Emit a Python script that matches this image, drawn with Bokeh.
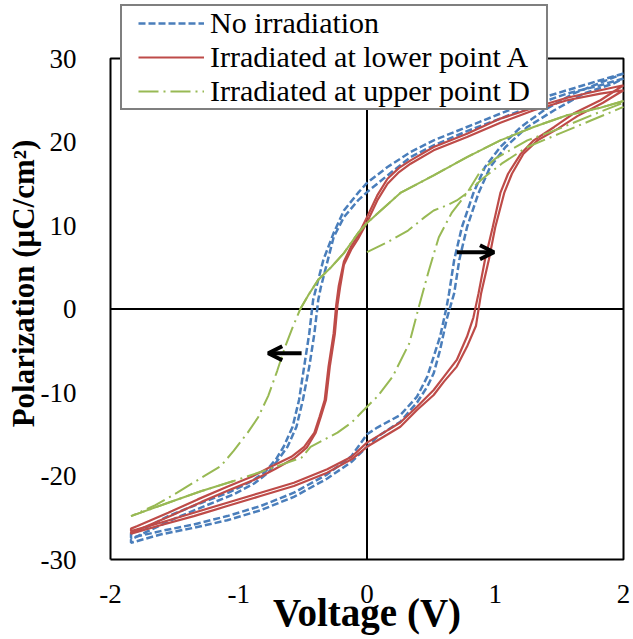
import math
from bokeh.plotting import figure
from bokeh.models import (Range1d, FixedTicker, Legend, LegendItem, Arrow, OpenHead)
from bokeh.embed import file_html
from bokeh.resources import INLINE

# ---------------- data ----------------
x_ticks = [-2, -1, 0, 1, 2]
y_ticks = [-30, -20, -10, 0, 10, 20, 30]
x_limits = (-2, 2)
y_limits = (-30, 30)

series_names = ["No irradiation", "Irradiated at lower point A", "Irradiated at upper point D"]
x_title = "Voltage (V)"
y_title = "Polarization (μC/cm²)"

# No irradiation (two cycles): descending and ascending branches
noirr_dn1_v = [2.0, 1.82, 1.56, 1.3, 1.04, 0.78, 0.52, 0.34, 0.16, 0.0, -0.07, -0.18, -0.26, -0.34, -0.38,
               -0.42, -0.45, -0.49, -0.53, -0.58, -0.65, -0.71, -0.80, -0.92, -1.08, -1.29, -1.55, -1.75, -1.84]
noirr_dn1_p = [28.2, 27.4, 26.2, 25.0, 23.4, 21.8, 20.2, 18.8, 17.0, 15.1, 13.9, 11.8, 9.1, 5.9, 3.5,
               1.1, -2.9, -6.9, -10.9, -14.1, -16.5, -18.0, -19.6, -20.8, -22.0, -23.2, -24.8, -26.4, -26.9]
noirr_up1_v = [-1.84, -1.61, -1.35, -1.09, -0.83, -0.57, -0.31, -0.12, 0.0, 0.08, 0.26, 0.39, 0.47, 0.52,
               0.57, 0.62, 0.64, 0.68, 0.74, 0.83, 0.92, 1.04, 1.2, 1.38, 1.61, 1.87, 2.0]
noirr_up1_p = [-27.4, -26.6, -25.8, -24.8, -23.6, -22.0, -19.8, -17.6, -15.0, -14.2, -12.7, -10.5, -8.1, -5.7,
               -3.3, 0.2, 1.9, 5.9, 9.8, 13.9, 17.0, 19.4, 21.8, 23.8, 25.8, 27.4, 28.2]
noirr_dn2_v = [2.0, 1.82, 1.56, 1.3, 1.04, 0.78, 0.52, 0.34, 0.16, 0.0, -0.07, -0.18, -0.26, -0.32, -0.36,
               -0.38, -0.41, -0.45, -0.50, -0.55, -0.62, -0.69, -0.77, -0.88, -1.04, -1.25, -1.5, -1.72, -1.84]
noirr_dn2_p = [27.6, 26.8, 25.8, 24.4, 22.8, 21.3, 19.6, 18.2, 16.0, 14.0, 13.0, 11.0, 8.6, 5.0, 2.6,
               1.1, -2.9, -6.9, -10.9, -14.1, -16.5, -18.0, -19.6, -20.9, -22.2, -23.5, -25.1, -26.7, -27.6]
noirr_up2_v = [-1.84, -1.61, -1.35, -1.09, -0.83, -0.57, -0.31, -0.12, 0.0, 0.08, 0.26, 0.39, 0.47, 0.52,
               0.57, 0.62, 0.68, 0.72, 0.78, 0.87, 0.96, 1.08, 1.25, 1.46, 1.69, 1.92, 2.0]
noirr_up2_p = [-28.0, -27.0, -26.2, -25.3, -24.1, -22.5, -20.3, -18.3, -16.5, -15.3, -13.5, -11.2, -9.3, -7.7,
               -4.9, -1.3, 1.9, 5.9, 9.8, 13.9, 17.0, 19.4, 21.8, 23.8, 25.8, 27.0, 27.6]

# Irradiated at lower point A (two cycles)
pointA_dn1_v = [2.0, 1.82, 1.56, 1.3, 1.04, 0.78, 0.52, 0.34, 0.25, 0.16, 0.08, 0.0, -0.07, -0.12, -0.18, -0.22,
                -0.24, -0.26, -0.30, -0.33, -0.37, -0.41, -0.49, -0.59, -0.75, -0.9, -1.09, -1.32, -1.55, -1.79, -1.84]
pointA_dn1_p = [26.8, 26.2, 25.3, 24.1, 22.8, 21.0, 19.4, 17.8, 16.9, 15.6, 13.6, 11.0, 8.8, 7.6, 5.7, 2.8,
                0.5, -2.9, -6.9, -10.9, -12.9, -14.8, -16.5, -17.7, -18.9, -20.1, -21.3, -22.8, -24.4, -26.0, -26.3]
pointA_up1_v = [-1.84, -1.61, -1.35, -1.09, -0.83, -0.57, -0.31, -0.12, 0.0, 0.13, 0.26, 0.39, 0.52, 0.6,
                0.7, 0.78, 0.83, 0.87, 0.92, 0.98, 1.04, 1.1, 1.2, 1.3, 1.46, 1.61, 1.82, 2.0]
pointA_up1_p = [-26.6, -25.6, -24.4, -23.2, -22.0, -20.8, -19.2, -17.7, -16.0, -14.8, -13.6, -11.7, -9.7, -8.1,
                -6.1, -3.3, -1.0, 1.9, 5.9, 9.8, 13.9, 16.2, 18.6, 20.2, 21.8, 23.4, 25.0, 26.8]
pointA_dn2_v = [2.0, 1.82, 1.56, 1.3, 1.04, 0.78, 0.52, 0.34, 0.25, 0.16, 0.08, 0.0, -0.07, -0.12, -0.18, -0.21,
                -0.23, -0.25, -0.29, -0.32, -0.36, -0.40, -0.47, -0.57, -0.72, -0.87, -1.06, -1.29, -1.52, -1.76, -1.84]
pointA_dn2_p = [26.2, 25.8, 25.0, 23.8, 22.3, 20.6, 19.0, 17.4, 16.4, 15.0, 13.0, 10.4, 8.4, 7.2, 5.3, 2.6,
                0.5, -2.9, -6.9, -10.9, -12.9, -14.8, -16.6, -17.9, -19.2, -20.4, -21.6, -23.1, -24.7, -26.3, -26.7]
pointA_up2_v = [-1.84, -1.61, -1.35, -1.09, -0.83, -0.57, -0.31, -0.12, 0.0, 0.13, 0.26, 0.39, 0.52, 0.6,
                0.7, 0.78, 0.85, 0.89, 0.95, 1.0, 1.07, 1.13, 1.22, 1.33, 1.49, 1.64, 1.84, 2.0]
pointA_up2_p = [-26.9, -25.9, -24.8, -23.6, -22.4, -21.2, -19.6, -18.0, -16.5, -15.3, -14.1, -12.1, -10.3, -8.7,
                -6.9, -4.5, -2.0, 1.9, 5.9, 9.8, 13.9, 16.2, 18.6, 20.2, 21.6, 23.1, 24.7, 26.2]

# Irradiated at upper point D: initial branch, descending branch, ascending branch
pointD_init_v = [0.0, 0.16, 0.32, 0.45, 0.52, 0.62, 0.70, 0.78, 0.9, 1.05, 1.25, 1.5, 1.75, 2.0]
pointD_init_p = [6.8, 8.0, 9.4, 11.0, 11.8, 12.4, 13.0, 13.9, 15.6, 17.4, 19.4, 21.0, 22.6, 24.2]
pointD_dn_v = [2.0, 1.82, 1.56, 1.3, 1.04, 0.78, 0.52, 0.26, 0.0, -0.07, -0.18, -0.28, -0.38, -0.46, -0.52,
               -0.58, -0.64, -0.70, -0.77, -0.85, -0.93, -1.04, -1.14, -1.29, -1.48, -1.65, -1.84]
pointD_dn_p = [24.9, 24.1, 23.2, 21.8, 20.2, 18.2, 16.0, 13.9, 10.3, 9.1, 6.7, 5.0, 3.5, 1.6, 0.0,
               -2.2, -4.6, -7.4, -10.4, -13.0, -14.8, -17.0, -18.8, -20.2, -22.0, -23.5, -24.8]
pointD_up_v = [-1.84, -1.55, -1.29, -1.04, -0.77, -0.51, -0.44, -0.23, -0.12, 0.0, 0.08, 0.2, 0.33, 0.40,
               0.48, 0.56, 0.66, 0.78, 0.88, 1.0, 1.25, 1.5, 1.75, 2.0]
pointD_up_p = [-24.8, -23.2, -21.8, -20.6, -19.2, -17.8, -16.5, -14.8, -13.6, -11.7, -10.5, -8.1, -4.1, 0.0,
               4.5, 8.6, 11.5, 13.9, 16.4, 18.0, 20.2, 21.6, 23.2, 24.7]

# shift arrows (start, end) in data units
arrow_right = (0.70, 6.8, 0.99, 6.8)
arrow_left = (-0.51, -5.3, -0.77, -5.3)

# ---------------- styles / layout ----------------
BLUE = "#4A7EBB"
RED = "#BE4B48"
GREEN = "#98B954"
SERIF = "Liberation Serif"

W, H = 633, 639
PX_X = 128.25          # pixels per volt
PX_Y = 8.35            # pixels per µC/cm²
FRAME_LEFT, FRAME_RIGHT, FRAME_TOP, FRAME_BOTTOM = 107, 626, 4, 562
BOX_LEFT, BOX_TOP, BOX_BOTTOM = 110, 58, 559

x_range = Range1d(x_limits[0] - (BOX_LEFT - FRAME_LEFT) / PX_X,
                  x_limits[0] + (FRAME_RIGHT - BOX_LEFT) / PX_X)
y_range = Range1d(y_limits[0] - (FRAME_BOTTOM - BOX_BOTTOM) / PX_Y,
                  y_limits[1] + (BOX_TOP - FRAME_TOP) / PX_Y)

p = figure(width=W, height=H, output_backend="svg", toolbar_location=None,
           x_range=x_range, y_range=y_range,
           min_border_left=FRAME_LEFT, min_border_right=W - FRAME_RIGHT,
           min_border_top=FRAME_TOP, min_border_bottom=H - FRAME_BOTTOM,
           background_fill_color="white", border_fill_color="white")

p.xgrid.visible = False
p.ygrid.visible = False
p.outline_line_color = None

for ax in p.axis:
    ax.axis_line_color = None
    ax.major_tick_line_color = None
    ax.minor_tick_line_color = None
    ax.major_label_text_font = SERIF
    ax.major_label_text_font_size = "27px"
    ax.major_label_text_color = "black"
    ax.axis_label_text_font = SERIF
    ax.axis_label_text_font_style = "bold"
    ax.axis_label_text_color = "black"
p.xaxis.ticker = FixedTicker(ticks=x_ticks)
p.yaxis.ticker = FixedTicker(ticks=y_ticks)
p.xaxis.major_label_overrides = {t: str(t) for t in x_ticks}
p.yaxis.major_label_overrides = {t: str(t) for t in y_ticks}
p.xaxis.major_label_standoff = 16
p.yaxis.major_label_standoff = 25
p.xaxis.axis_label = x_title
p.xaxis.axis_label_text_font_size = "39px"
p.xaxis.axis_label_standoff = -15
p.yaxis.axis_label = y_title
p.yaxis.axis_label_text_font_size = "31px"
p.yaxis.axis_label_standoff = -3

# plot box and zero axes (drawn from the axis limits)
p.line([x_limits[0], x_limits[0], x_limits[1], x_limits[1], x_limits[0]],
       [y_limits[0], y_limits[1], y_limits[1], y_limits[0], y_limits[0]],
       line_color="black", line_width=2)
p.line([0, 0], list(y_limits), line_color="black", line_width=2)
p.line(list(x_limits), [0, 0], line_color="black", line_width=2)

# No irradiation
b1 = p.line(noirr_dn1_v + noirr_up1_v, noirr_dn1_p + noirr_up1_p, line_color=BLUE, line_width=2.5, line_dash="7 3")
b2 = p.line(noirr_dn2_v + noirr_up2_v, noirr_dn2_p + noirr_up2_p, line_color=BLUE, line_width=2.5, line_dash="7 3")
# Point A
r1 = p.line(pointA_dn1_v + pointA_up1_v, pointA_dn1_p + pointA_up1_p, line_color=RED, line_width=2.2)
r2 = p.line(pointA_dn2_v + pointA_up2_v, pointA_dn2_p + pointA_up2_p, line_color=RED, line_width=2.2)
# Point D
g_init = p.line(pointD_init_v, pointD_init_p, line_color=GREEN, line_width=2, line_dash="20 5 2 5")
g1 = p.line(pointD_dn_v + pointD_up_v, pointD_dn_p + pointD_up_p, line_color=GREEN, line_width=2, line_dash="20 5 2 5")
# densely sampled portions render as continuous strokes in the original
n_dn = 15
n_up = 4
p.line(pointD_dn_v[:n_dn], pointD_dn_p[:n_dn], line_color=GREEN, line_width=2)
p.line(pointD_up_v[:n_up], pointD_up_p[:n_up], line_color=GREEN, line_width=2)

for (xs, ys, xe, ye) in (arrow_right, arrow_left):
    p.add_layout(Arrow(x_start=xs, y_start=ys, x_end=xe, y_end=ye, line_width=4, line_color="black",
                       end=OpenHead(size=14, line_width=4, line_color="black")))

legend = Legend(items=[LegendItem(label=series_names[0], renderers=[b1]),
                       LegendItem(label=series_names[1], renderers=[r1]),
                       LegendItem(label=series_names[2], renderers=[g1])],
                location=(120 - FRAME_LEFT, FRAME_BOTTOM - 110))
legend.label_text_font = SERIF
legend.label_text_font_size = "30px"
legend.label_text_color = "black"
legend.glyph_width = 66
legend.glyph_height = 26
legend.label_height = 26
legend.label_standoff = 6
legend.margin = 0
legend.spacing = 0
try:
    legend.padding = (16, 0)
except Exception:
    legend.padding = 4
legend.border_line_color = "black"
legend.border_line_width = 2
legend.background_fill_color = "white"
legend.background_fill_alpha = 1
p.add_layout(legend)

open("out.html", "w").write(file_html(p, INLINE))
